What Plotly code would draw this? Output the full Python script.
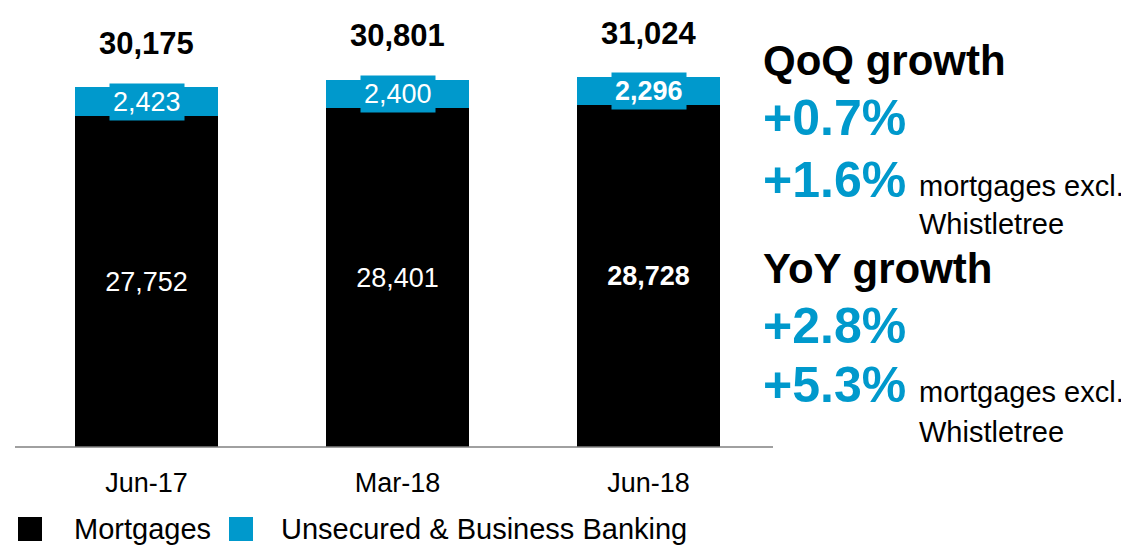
import plotly.graph_objects as go

#%% data
periods = ['Jun-17', 'Mar-18', 'Jun-18']
mortgages = [27752, 28401, 28728]
unsecured = [2423, 2400, 2296]
totals = [30175, 30801, 31024]
bold_last = [False, False, True]

blue = '#0099CC'
font = 'Liberation Sans, Arial, sans-serif'

# page has an 8px body margin, so the figure is drawn a bit smaller and
# all pixel positions below are given in page pixels
OFF = 8
W, H = 1129 - OFF, 546 - OFF
# plot area in page pixels: x 21..774, y 20..447
L, R, T, B = 21, 774, 20, 447


def px(x):
    return (x - L) / (R - L)


def py(y):
    return (B - y) / (B - T)


def fmt(v, b):
    s = f'{v:,}'
    return f'<b>{s}</b>' if b else s


fig = go.Figure()

fig.add_trace(go.Bar(
    x=periods, y=mortgages, name='Mortgages',
    marker=dict(color='black', line=dict(width=0)),
    text=[fmt(v, b) for v, b in zip(mortgages, bold_last)],
    textposition='inside', insidetextanchor='middle',
    textfont=dict(color='white', size=27, family=font),
    textangle=0, hoverinfo='skip',
))
fig.add_trace(go.Bar(
    x=periods, y=unsecured, name='Unsecured & Business Banking',
    marker=dict(color=blue, line=dict(width=0)),
    hoverinfo='skip',
))

annotations = []
# segment labels for the blue part, with blue box behind
for p, m, u, b in zip(periods, mortgages, unsecured, bold_last):
    annotations.append(dict(
        x=p, y=m + u / 2, xref='x', yref='y', text=fmt(u, b), showarrow=False,
        font=dict(color='white', size=27, family=font),
        bgcolor=blue, borderpad=3,
    ))
# totals above bars
for p, t in zip(periods, totals):
    annotations.append(dict(
        x=p, y=t, xref='x', yref='y', text=f'<b>{t:,}</b>', showarrow=False,
        yshift=44, font=dict(color='black', size=31, family=font),
    ))

# right hand commentary
side = [
    ('<b>QoQ growth</b>', 761, 60, 42, 'black'),
    ('<b>+0.7%</b>', 761, 118, 50, blue),
    ('<b>+1.6%</b>', 761, 180, 50, blue),
    ('mortgages excl.', 917, 186, 29, 'black'),
    ('Whistletree', 917, 224, 29, 'black'),
    ('<b>YoY growth</b>', 761, 268, 42, 'black'),
    ('<b>+2.8%</b>', 761, 326, 50, blue),
    ('<b>+5.3%</b>', 761, 385, 50, blue),
    ('mortgages excl.', 917, 392, 29, 'black'),
    ('Whistletree', 917, 432, 29, 'black'),
]
for txt, x, y, s, c in side:
    annotations.append(dict(
        x=px(x), y=py(y), xref='paper', yref='paper', text=txt, showarrow=False,
        xanchor='left', yanchor='middle', font=dict(color=c, size=s, family=font),
    ))

# baseline, a little wider than the plot area
shapes = [dict(type='line', xref='paper', yref='paper',
               x0=px(15), x1=px(773), y0=0, y1=0,
               line=dict(color='#808080', width=1.5))]

# legend drawn by hand
for x0, c, label, tx in [(18, 'black', 'Mortgages', 72), (229, blue, 'Unsecured & Business Banking', 279)]:
    shapes.append(dict(type='rect', xref='paper', yref='paper',
                       x0=px(x0), x1=px(x0 + 24), y0=py(541), y1=py(517),
                       fillcolor=c, line=dict(width=0)))
    annotations.append(dict(
        x=px(tx), y=py(529), xref='paper', yref='paper', text=label, showarrow=False,
        xanchor='left', yanchor='middle', font=dict(color='black', size=29, family=font),
    ))

fig.update_layout(
    barmode='stack', bargap=0.434,
    width=W, height=H,
    margin=dict(l=L - OFF, r=W - (R - OFF), t=T - OFF, b=H - (B - OFF), pad=0),
    paper_bgcolor='white', plot_bgcolor='white',
    showlegend=False,
    xaxis=dict(showline=False, ticks='', ticklabelstandoff=17,
               tickfont=dict(size=27, color='black', family=font), range=[-0.5, 2.5],
               showgrid=False),
    yaxis=dict(visible=False, range=[0, (B - T) / 0.01192], showgrid=False),
    annotations=annotations, shapes=shapes,
    font=dict(family=font),
)

fig.write_html('out.html')
